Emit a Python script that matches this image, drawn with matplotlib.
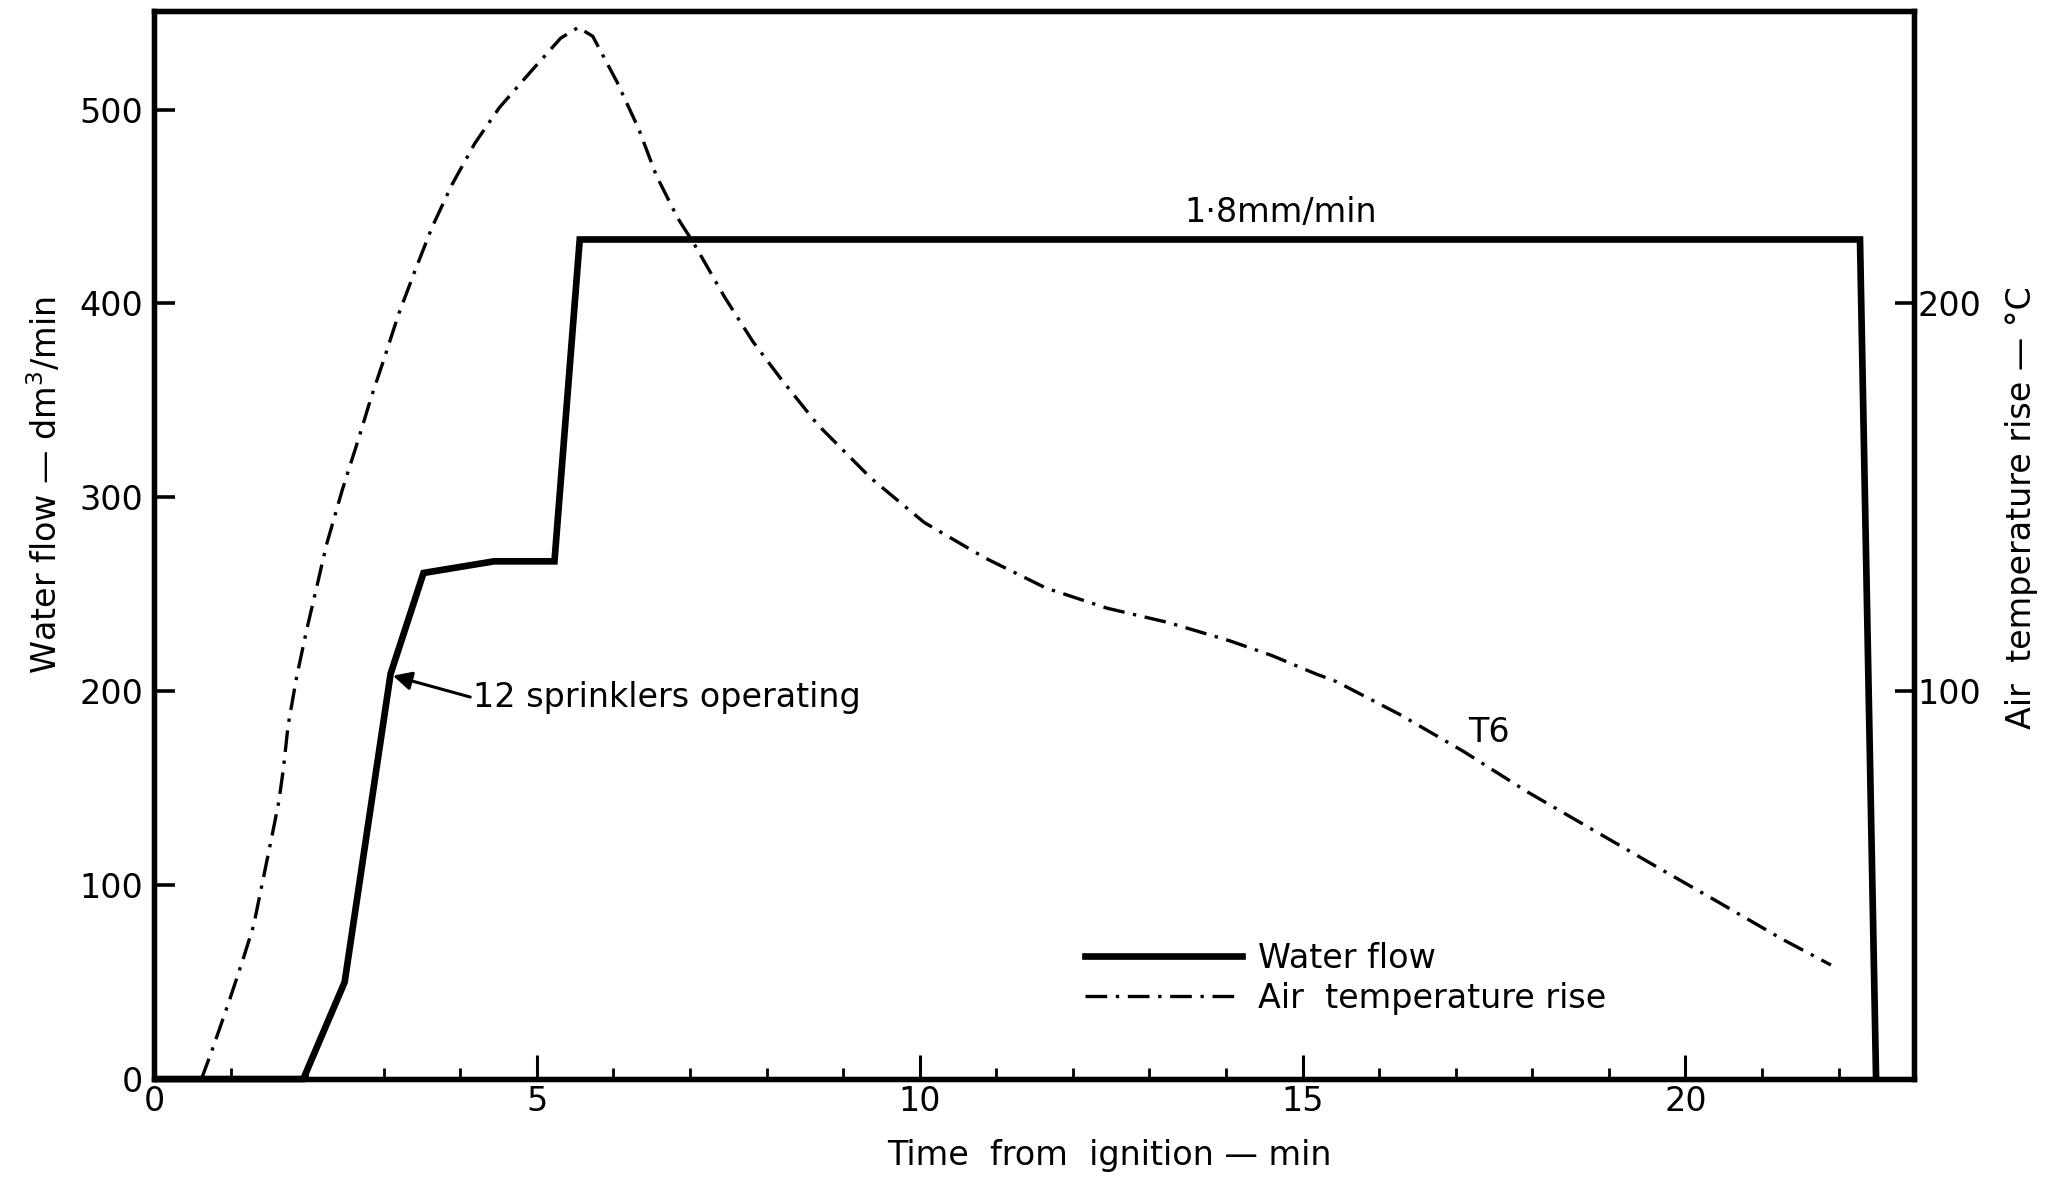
import matplotlib
matplotlib.use('Agg')
import matplotlib.pyplot as plt
from matplotlib.ticker import FixedLocator, MultipleLocator
from matplotlib.lines import Line2D

plt.rcParams['font.family'] = ['DejaVu Sans']

# ---- data ----
time_flow = [0.0, 1.95, 2.49, 3.09, 3.52, 4.44, 5.23, 5.56, 22.28, 22.49]
water_flow = [0, 0, 50, 209, 261, 267, 267, 433, 433, 0]

time_temp = [0.62, 0.76, 0.98, 1.16, 1.30, 1.43, 1.54, 1.63, 1.69, 1.75, 1.86,
             1.99, 2.15, 2.25, 2.46, 2.67, 2.84, 3.01, 3.19, 3.40, 3.63, 3.89,
             4.19, 4.51, 4.93, 5.31, 5.54, 5.73, 6.05, 6.33, 6.56, 6.84, 7.05,
             7.45, 7.82, 8.19, 8.67, 9.36, 10.06, 10.86, 11.65, 12.45, 13.25,
             14.05, 14.6, 15.17, 15.44, 16.27, 17.1, 17.94, 18.77, 19.6, 20.44,
             21.27, 21.9]
temp_rise = [0, 7.5, 20, 30.7, 39.5, 52, 62.6, 71.5, 80, 91, 103.4,
             115.5, 129, 137.6, 152, 165, 176, 186, 197, 208, 219.6, 230.6,
             241.3, 250.5, 260, 268.4, 271.2, 268.9, 257, 245, 233, 222, 215.5,
             201.7, 190.2, 180.5, 168.7, 155, 143.5, 134.3, 126.6, 121.4, 117.7,
             113, 109.2, 104.5, 102.5, 94, 84.5, 74, 64.5, 55, 45.5,
             36, 29.4]

x_major = [0, 5, 10, 15, 20]
y_ticks = [0, 100, 200, 300, 400, 500]
t_ticks = [100, 200]

W, H = 2051, 1178
fig = plt.figure(figsize=(W / 100, H / 100), dpi=100)
ax = fig.add_axes([154 / W, 1 - 1079 / H, (1913.6 - 154) / W, (1079 - 10.7) / H])
ax2 = ax.twinx()

FS = 24
DASH = (0, (6.5, 2.6, 1.0, 2.6))

ax.plot(time_flow, water_flow, color='black', lw=4.8, solid_joinstyle='miter',
        solid_capstyle='butt', clip_on=False, zorder=3)
ax2.plot(time_temp, temp_rise, color='black', lw=2.4, linestyle=DASH, zorder=3)

ax.set_xlim(0, 22.98)
ax.set_ylim(0, 551)
ax2.set_ylim(0, 275.5)

for a in (ax, ax2):
    for s in a.spines.values():
        s.set_linewidth(3.8)

ax.xaxis.set_major_locator(FixedLocator(x_major))
ax.xaxis.set_minor_locator(MultipleLocator(1))
ax.yaxis.set_major_locator(FixedLocator(y_ticks))
ax2.yaxis.set_major_locator(FixedLocator(t_ticks))

ax.tick_params(axis='x', which='major', direction='in', length=17, width=2.2,
               labelsize=FS, pad=4)
ax.tick_params(axis='x', which='minor', direction='in', length=8, width=2.0)
ax.tick_params(axis='y', which='major', direction='in', length=15, width=2.6,
               labelsize=FS, pad=8)
ax2.tick_params(axis='y', which='major', direction='in', length=14, width=2.6,
                labelsize=FS, pad=3)

ax.set_xlabel('Time  from  ignition — min', fontsize=FS)
ax.xaxis.set_label_coords(0.543, -0.056)
ax.set_ylabel('Water flow — dm$^3$/min', fontsize=FS)
ax.yaxis.set_label_coords(-0.051, 0.556)
ax2.set_ylabel('Air  temperature rise — °C', fontsize=FS, rotation=90)
ax2.yaxis.set_label_coords(1.052, 0.535)

ax.text(14.72, 447, '1·8mm/min', fontsize=FS, ha='center', va='center')
ax.text(17.44, 178.5, 'T6', fontsize=FS, ha='center', va='center')
ax.text(4.17, 197, '12 sprinklers operating', fontsize=FS, ha='left', va='center')
ax.annotate('', xy=(3.12, 208), xytext=(4.13, 197),
            arrowprops=dict(arrowstyle='-|>', color='black', lw=2.2,
                            mutation_scale=28, shrinkA=0, shrinkB=0))

handles = [Line2D([], [], color='black', lw=4.8),
           Line2D([], [], color='black', lw=2.4, linestyle=DASH)]
fig.legend(handles, ['Water flow', 'Air  temperature rise'], loc='upper left',
           bbox_to_anchor=(1085 / W, 1 - 942 / H), frameon=False, fontsize=FS,
           handlelength=4.7, handletextpad=0.5, labelspacing=0.2,
           borderpad=0, borderaxespad=0)

fig.savefig('out.png', dpi=100, facecolor='white')
